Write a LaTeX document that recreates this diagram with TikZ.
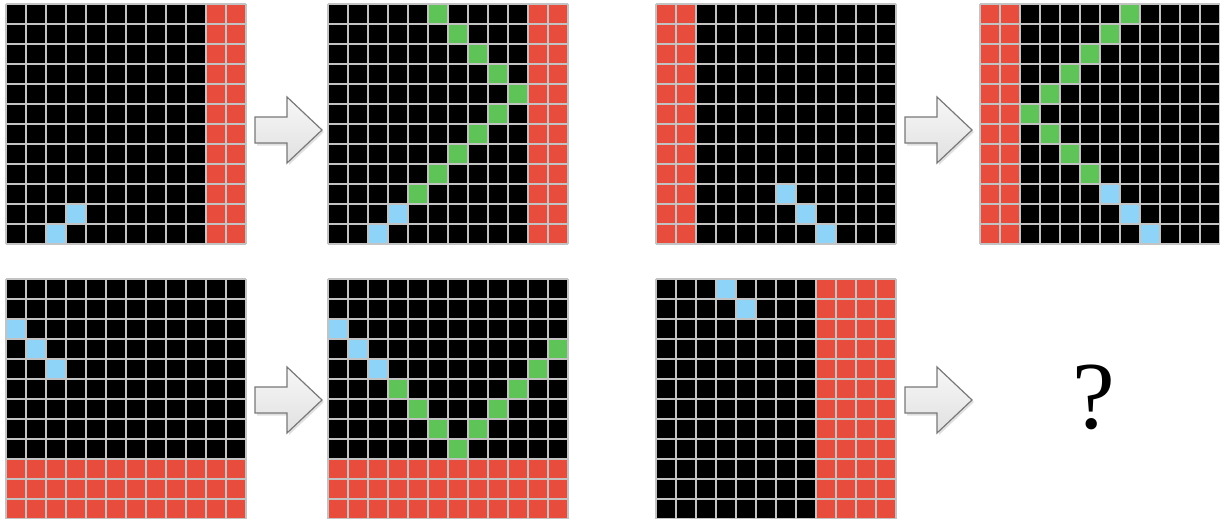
\documentclass[tikz,border=0pt]{standalone}
\usepackage{fontspec}
\newfontfamily\qfont{Liberation Serif}
\definecolor{cellred}{RGB}{232,76,61}
\definecolor{cellblue}{RGB}{142,212,248}
\definecolor{cellgreen}{RGB}{94,196,88}
\definecolor{gridgray}{RGB}{195,195,195}
\definecolor{arrowedge}{RGB}{120,120,120}
\tikzset{
  gl/.style={draw=gridgray, line width=1.4pt},
  arrowbody/.style={draw=arrowedge, line width=1.2pt, line join=miter, top color=black!3, bottom color=black!12},
  arrowshadow/.style={fill=black, opacity=0.12},
  qmark/.style={font=\qfont\fontsize{96}{96}\selectfont, inner sep=0pt}
}
\newcommand\cellat[5]{\fill[#5] ({#1+20*(#3)},{#2+20*(#4)}) rectangle ++(20,20);}
\newcommand\panelbg[2]{\fill[black] (#1,#2) rectangle ++(240,240);}
\newcommand\gridlines[2]{\foreach \k in {0,...,12}{\draw[gl] ({#1+20*\k},#2) -- ++(0,240); \draw[gl] (#1,{#2+20*\k}) -- ++(240,0);}}
\newcommand\blockarrow[2]{%
  \fill[arrowshadow] ({#1+2},{#2-10.5}) -- ({#1+34},{#2-10.5}) -- ({#1+34},{#2-31}) -- ({#1+69},{#2+2}) -- ({#1+34},{#2+35}) -- ({#1+34},{#2+15.5}) -- ({#1+2},{#2+15.5}) -- cycle;
  \draw[arrowbody] (#1,{#2-13}) -- ({#1+32},{#2-13}) -- ({#1+32},{#2-33}) -- ({#1+67},#2) -- ({#1+32},{#2+33}) -- ({#1+32},{#2+13}) -- (#1,{#2+13}) -- cycle;}
\begin{document}
\begin{tikzpicture}[x=1pt,y=-1pt]
\useasboundingbox (0,0) rectangle (1220,519);
\fill[white] (0,0) rectangle (1220,519);
% ---------- panel 1 ----------
\panelbg{6}{4}
\fill[cellred] (206,4) rectangle ++(40,240);
\cellat{6}{4}{2}{11}{cellblue}
\cellat{6}{4}{3}{10}{cellblue}
\gridlines{6}{4}
% ---------- panel 2 ----------
\panelbg{328}{4}
\fill[cellred] (528,4) rectangle ++(40,240);
\foreach \c/\r in {5/0,6/1,7/2,8/3,9/4,8/5,7/6,6/7,5/8,4/9}{\cellat{328}{4}{\c}{\r}{cellgreen}}
\cellat{328}{4}{3}{10}{cellblue}
\cellat{328}{4}{2}{11}{cellblue}
\gridlines{328}{4}
% ---------- panel 3 ----------
\panelbg{656}{4}
\fill[cellred] (656,4) rectangle ++(40,240);
\foreach \c/\r in {6/9,7/10,8/11}{\cellat{656}{4}{\c}{\r}{cellblue}}
\gridlines{656}{4}
% ---------- panel 4 ----------
\panelbg{980}{4}
\fill[cellred] (980,4) rectangle ++(40,240);
\foreach \c/\r in {7/0,6/1,5/2,4/3,3/4,2/5,3/6,4/7,5/8}{\cellat{980}{4}{\c}{\r}{cellgreen}}
\foreach \c/\r in {6/9,7/10,8/11}{\cellat{980}{4}{\c}{\r}{cellblue}}
\gridlines{980}{4}
% ---------- panel 5 ----------
\panelbg{6}{279}
\fill[cellred] (6,459) rectangle ++(240,60);
\foreach \c/\r in {0/2,1/3,2/4}{\cellat{6}{279}{\c}{\r}{cellblue}}
\gridlines{6}{279}
% ---------- panel 6 ----------
\panelbg{328}{279}
\fill[cellred] (328,459) rectangle ++(240,60);
\foreach \c/\r in {0/2,1/3,2/4}{\cellat{328}{279}{\c}{\r}{cellblue}}
\foreach \c/\r in {3/5,4/6,5/7,6/8,7/7,8/6,9/5,10/4,11/3}{\cellat{328}{279}{\c}{\r}{cellgreen}}
\gridlines{328}{279}
% ---------- panel 7 ----------
\panelbg{656}{279}
\fill[cellred] (816,279) rectangle ++(80,240);
\foreach \c/\r in {3/0,4/1}{\cellat{656}{279}{\c}{\r}{cellblue}}
\gridlines{656}{279}
% ---------- arrows ----------
\blockarrow{255}{130}
\blockarrow{905}{130}
\blockarrow{255}{400}
\blockarrow{905}{400}
% ---------- question mark ----------
\node[qmark] (q) at (1094,397) {?};
\end{tikzpicture}
\end{document}
